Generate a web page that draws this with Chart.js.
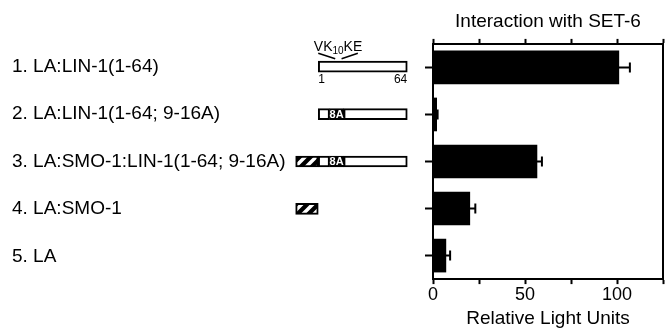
<!DOCTYPE html>
<html>
<head>
<meta charset="utf-8">
<title>Interaction with SET-6</title>
<script src="https://cdn.jsdelivr.net/npm/chart.js@4.4.0/dist/chart.umd.min.js"></script>
<style>
    html, body { margin: 0; padding: 0; background: #fff; }
    #wrap { position: relative; width: 670px; height: 329px; }
    #constructs { position: absolute; left: 0; top: 0; }
    #bars { position: absolute; left: 380px; top: 0; }
</style>
</head>
<body>
<div id="wrap">
    <canvas id="constructs" width="430" height="329"></canvas>
    <canvas id="bars" width="290" height="329"></canvas>
</div>
<script>
// data
const constructs = [
    '1. LA:LIN-1(1-64)',
    '2. LA:LIN-1(1-64; 9-16A)',
    '3. LA:SMO-1:LIN-1(1-64; 9-16A)',
    '4. LA:SMO-1',
    '5. LA'
];
const lightUnits = [101, 2, 56.5, 20, 7];
const lightErrors = [6, 0.5, 2.7, 3, 2.3];
const xTickLabels = [0, 50, 100];

// construct segments, in LIN-1 residues (SMO-1 drawn in front of residue 1)
const lin1Start = [[1, 64], [1, 9], [1, 9], null, null];
const lin1Mutant = [null, [9, 19], [9, 19], null, null];
const lin1End = [null, [19, 64], [19, 64], null, null];
const smo1 = [null, null, [-15, 1], [-15, 1], null];

const FONT = "'Liberation Sans', Arial, sans-serif";
Chart.defaults.font.family = FONT;
Chart.defaults.color = '#000';

// hatch for SMO-1
function makeHatch() {
    const n = 11;
    const c = document.createElement('canvas');
    c.width = n;
    c.height = n;
    const g = c.getContext('2d');
    g.fillStyle = '#000';
    g.fillRect(0, 0, n, n);
    g.strokeStyle = '#fff';
    g.lineWidth = 3.5;
    g.beginPath();
    g.moveTo(-1, n + 1); g.lineTo(n + 1, -1);
    g.moveTo(-3, 3); g.lineTo(3, -3);
    g.moveTo(n - 3, n + 3); g.lineTo(n + 3, n - 3);
    g.stroke();
    return g.createPattern(c, 'repeat');
}

function segment(data, fill) {
    return {
        data: data,
        backgroundColor: fill,
        borderColor: '#000',
        borderWidth: 2,
        borderSkipped: false,
        barThickness: 11,
        grouped: false
    };
}

// labels on the construct drawings
const constructNotes = {
    id: 'constructNotes',
    afterDatasetsDraw(chart) {
        const { ctx, scales: { x, y } } = chart;
        const row = y.getPixelForValue(0);
        const top = row - 5.5;
        const bottom = row + 5.5;
        ctx.save();
        ctx.fillStyle = '#000';
        ctx.strokeStyle = '#000';
        ctx.lineWidth = 1.5;

        // VK10KE motif
        ctx.textBaseline = 'alphabetic';
        ctx.textAlign = 'left';
        ctx.font = `14px ${FONT}`;
        const w1 = ctx.measureText('VK').width;
        const w3 = ctx.measureText('KE').width;
        ctx.font = `10px ${FONT}`;
        const w2 = ctx.measureText('10').width;
        let tx = x.getPixelForValue(15) - (w1 + w2 + w3) / 2;
        const base = top - 10;
        ctx.font = `14px ${FONT}`;
        ctx.fillText('VK', tx, base);
        ctx.font = `10px ${FONT}`;
        ctx.fillText('10', tx + w1, base + 3);
        ctx.font = `14px ${FONT}`;
        ctx.fillText('KE', tx + w1 + w2, base);

        ctx.beginPath();
        ctx.moveTo(x.getPixelForValue(1), top - 8);
        ctx.lineTo(x.getPixelForValue(13), top - 2.5);
        ctx.moveTo(x.getPixelForValue(29), top - 8);
        ctx.lineTo(x.getPixelForValue(17.5), top - 2.5);
        ctx.stroke();

        // residue numbers
        ctx.font = `12px ${FONT}`;
        ctx.textBaseline = 'top';
        ctx.textAlign = 'left';
        ctx.fillText('1', x.getPixelForValue(1), bottom + 1);
        ctx.textAlign = 'right';
        ctx.fillText('64', x.getPixelForValue(64), bottom + 1);

        // 8A on the mutated block
        const meta = chart.getDatasetMeta(1);
        ctx.font = `bold 11px ${FONT}`;
        ctx.fillStyle = '#fff';
        ctx.textAlign = 'center';
        ctx.textBaseline = 'middle';
        meta.data.forEach((bar, i) => {
            if (lin1Mutant[i]) {
                ctx.fillText('8A', (bar.x + bar.base) / 2, bar.y + 0.5);
            }
        });
        ctx.restore();
    }
};

// error bars (positive side only)
const errorBars = {
    id: 'errorBars',
    afterDatasetsDraw(chart) {
        const { ctx, scales: { x } } = chart;
        const meta = chart.getDatasetMeta(0);
        ctx.save();
        ctx.strokeStyle = '#000';
        ctx.lineWidth = 2;
        meta.data.forEach((bar, i) => {
            const x0 = x.getPixelForValue(lightUnits[i]);
            const x1 = x.getPixelForValue(lightUnits[i] + lightErrors[i]);
            ctx.beginPath();
            ctx.moveTo(x0 - 1, bar.y);
            ctx.lineTo(x1, bar.y);
            ctx.moveTo(x1, bar.y - 5);
            ctx.lineTo(x1, bar.y + 5);
            ctx.stroke();
        });
        ctx.restore();
    }
};

const hatch = makeHatch();

// left: construct names and drawings
new Chart(document.getElementById('constructs'), {
    type: 'bar',
    data: {
        labels: constructs,
        datasets: [
            segment(lin1Start, '#fff'),
            segment(lin1Mutant, '#000'),
            segment(lin1End, '#fff'),
            segment(smo1, hatch)
        ]
    },
    options: {
        indexAxis: 'y',
        responsive: false,
        animation: false,
        devicePixelRatio: 1,
        layout: { padding: { left: 12, right: 10, top: 43, bottom: 49 } },
        plugins: {
            legend: { display: false },
            tooltip: { enabled: false }
        },
        scales: {
            x: { type: 'linear', display: false, min: -19, max: 73 },
            y: {
                afterFit: s => { s.width = 278; },
                grid: { display: false },
                border: { display: false },
                ticks: { crossAlign: 'far', color: '#000', font: { size: 19 }, padding: 0 }
            }
        }
    },
    plugins: [constructNotes]
});

// right: interaction bars
const axisLine = { color: '#000', width: 2 };
new Chart(document.getElementById('bars'), {
    type: 'bar',
    data: {
        labels: constructs,
        datasets: [{
            data: lightUnits,
            backgroundColor: '#000',
            barThickness: 33
        }]
    },
    options: {
        indexAxis: 'y',
        responsive: false,
        animation: false,
        devicePixelRatio: 1,
        layout: { padding: { left: 45, right: 7, top: 0, bottom: 0 } },
        plugins: {
            legend: { display: false },
            tooltip: { enabled: false },
            title: {
                display: true,
                fullSize: false,
                text: 'Interaction with SET-6',
                color: '#000',
                font: { size: 19, weight: 'normal', lineHeight: 1.1 },
                padding: { top: 11, bottom: 7 }
            }
        },
        scales: {
            x: {
                position: 'bottom',
                min: 0,
                max: 125,
                ticks: {
                    stepSize: 25,
                    color: '#000',
                    font: { size: 18, lineHeight: 1 },
                    padding: 2,
                    maxRotation: 0,
                    autoSkip: false,
                    callback: v => xTickLabels.includes(v) ? v : ''
                },
                grid: { drawOnChartArea: false, tickLength: 5, tickWidth: 2, color: '#000' },
                border: axisLine,
                title: {
                    display: true,
                    text: 'Relative Light Units',
                    color: '#000',
                    font: { size: 19, lineHeight: 1.1 },
                    padding: { top: 2, bottom: 0 }
                }
            },
            x2: {
                position: 'top',
                min: 0,
                max: 125,
                ticks: { display: false, stepSize: 25 },
                grid: { drawOnChartArea: false, tickLength: 5, tickWidth: 2, color: '#000' },
                border: axisLine
            },
            y: {
                ticks: { display: false },
                grid: { offset: false, drawOnChartArea: false, tickLength: 8, tickWidth: 2, color: '#000' },
                border: axisLine
            },
            y2: {
                type: 'linear',
                position: 'right',
                ticks: { display: false },
                grid: { display: false, drawTicks: false },
                border: axisLine
            }
        }
    },
    plugins: [errorBars]
});
</script>
</body>
</html>
